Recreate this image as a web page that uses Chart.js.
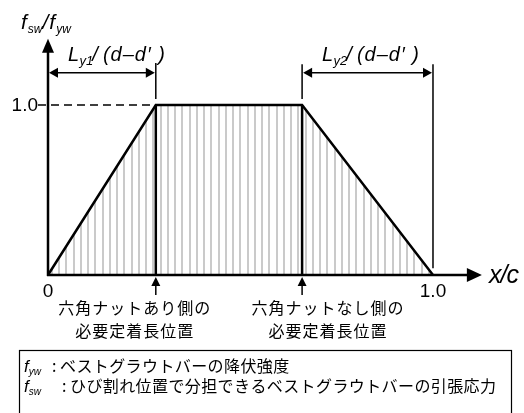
<!DOCTYPE html>
<html>
<head>
<meta charset="utf-8">
<script src="https://cdn.jsdelivr.net/npm/chart.js@4.4.1/dist/chart.umd.min.js"></script>
<style>
    html, body { margin: 0; padding: 0; background: #fff; }
    canvas { display: block; }
</style>
</head>
<body>
<canvas id="chart" width="524" height="413"></canvas>
<script>
// Corners of the stress profile (x/c) and f_sw/f_yw there
const xRatio = [0, 0.28, 0.66, 1.0];
const stressRatio = [0, 1.0, 1.0, 0];

// Required anchorage positions and their captions
const anchorX = [0.28, 0.66];
const anchorLabels = [
    ['六角ナットあり側の', '必要定着長位置'],
    ['六角ナットなし側の', '必要定着長位置']
];

// Tick labels
const xTicks = [0, 1.0];
const xTickLabels = ['0', '1.0'];
const yTicks = [1.0];
const yTickLabels = ['1.0'];

// Dimension spans L_y1 and L_y2
const spans = [[0, 0.28, 'y1'], [0.66, 1.0, 'y2']];

// Notes box
const notes = [
    ['yw', 'ベストグラウトバーの降伏強度'],
    ['sw', 'ひび割れ位置で分担できるベストグラウトバーの引張応力']
];

const latin = '"Liberation Sans", Arial, sans-serif';
const cjk = '"Noto Sans CJK JP", sans-serif';

// Vertical hatching for the area under the profile
function makeHatch(ctx) {
    const c = document.createElement('canvas');
    c.width = 29;
    c.height = 8;
    const g = c.getContext('2d');
    g.fillStyle = '#cacaca';
    for (let i = 0; i < 4; i++) g.fillRect(Math.round(i * 7.25), 0, 2, 8);
    return ctx.createPattern(c, 'repeat');
}

function arrowHead(ctx, x, y, dir, len, half) {
    // dir: 'up', 'right', 'left'
    ctx.beginPath();
    if (dir === 'up') {
        ctx.moveTo(x, y); ctx.lineTo(x - half, y + len); ctx.lineTo(x + half, y + len);
    } else if (dir === 'right') {
        ctx.moveTo(x, y); ctx.lineTo(x - len, y - half); ctx.lineTo(x - len, y + half);
    } else {
        ctx.moveTo(x, y); ctx.lineTo(x + len, y - half); ctx.lineTo(x + len, y + half);
    }
    ctx.closePath();
    ctx.fill();
}

// draws pieces of italic text with subscripts, left to right
function richText(ctx, x, y, parts) {
    ctx.textBaseline = 'alphabetic';
    ctx.textAlign = 'left';
    parts.forEach(p => {
        ctx.font = 'italic ' + p[1] + 'px ' + latin;
        ctx.fillText(p[0], x, y + (p[2] || 0));
        x += ctx.measureText(p[0]).width + (p[3] || 0);
    });
    return x;
}

const decor = {
    id: 'decor',
    afterDatasetsDraw(chart) {
        const ctx = chart.ctx;
        const sx = chart.scales.x, sy = chart.scales.y;
        const px = v => sx.getPixelForValue(v);
        const py = v => sy.getPixelForValue(v);
        const x0 = px(0), y0 = py(0);

        ctx.save();
        ctx.strokeStyle = '#000';
        ctx.fillStyle = '#000';

        // axes
        ctx.lineWidth = 2.5;
        ctx.beginPath();
        ctx.moveTo(x0, y0 + 1); ctx.lineTo(x0, py(1.33));
        ctx.moveTo(x0 - 1, y0); ctx.lineTo(px(1.09), y0);
        ctx.stroke();
        arrowHead(ctx, x0, py(1.39), 'up', 14, 6);
        arrowHead(ctx, px(1.127), y0, 'right', 15, 7);

        // dimension lines
        ctx.lineWidth = 1.5;
        const dimY = py(1.19);
        spans.forEach(s => {
            const a = px(s[0]), b = px(s[1]);
            ctx.beginPath();
            ctx.moveTo(a + 4, dimY); ctx.lineTo(b - 4, dimY);
            ctx.stroke();
            arrowHead(ctx, a + 1, dimY, 'left', 9, 5);
            arrowHead(ctx, b - 1, dimY, 'right', 9, 5);
        });
        // extension lines
        ctx.beginPath();
        ctx.moveTo(px(0.28), py(1.247)); ctx.lineTo(px(0.28), py(1.035));
        ctx.moveTo(px(0.66), py(1.24)); ctx.lineTo(px(0.66), py(1.035));
        ctx.moveTo(px(1.0), py(1.24)); ctx.lineTo(px(1.0), py(0.04));
        ctx.stroke();

        // anchorage arrows below the axis
        anchorX.forEach(v => {
            const x = px(v);
            ctx.beginPath();
            ctx.moveTo(x, py(-0.06)); ctx.lineTo(x, py(-0.118));
            ctx.stroke();
            arrowHead(ctx, x, py(-0.012), 'up', 9, 4.5);
        });

        // dimension captions
        spans.forEach((s, i) => {
            const start = i === 0 ? 68 : 322;
            let x = richText(ctx, start, 61, [['L', 20, 0, 0.5], [s[2], 13, 4, 0]]);
            x = richText(ctx, x - 1, 61, [['/', 20, 0, 5]]);
            ctx.font = 'italic 20px ' + latin;
            ctx.letterSpacing = '1px';
            ctx.fillText('(d–d′ )', x, 61);
            ctx.letterSpacing = '0px';
        });

        // y axis title and x axis title
        richText(ctx, 21, 29, [['f', 21, 0, 1], ['sw', 12, 4, 0], ['/', 21, 0, 1], ['f', 21, 0, 1], ['yw', 12, 4, 0]]);
        richText(ctx, 489, 283, [['x', 25, 0, -1], ['/', 25, 0, -1], ['c', 25, 0, 0]]);

        // tick labels
        ctx.font = '19px ' + latin;
        ctx.textBaseline = 'middle';
        ctx.textAlign = 'center';
        xTicks.forEach((v, i) => ctx.fillText(xTickLabels[i], px(v), y0 + 17));
        ctx.textAlign = 'right';
        yTicks.forEach((v, i) => ctx.fillText(yTickLabels[i], x0 - 10, py(v) + 1));

        // anchorage captions
        ctx.font = '16px ' + cjk;
        ctx.letterSpacing = '1px';
        ctx.textAlign = 'center';
        const offsets = [-21, 26];
        anchorLabels.forEach((lines, i) => {
            const cx = px(anchorX[i]) + offsets[i];
            lines.forEach((t, j) => ctx.fillText(t, cx, 308 + j * 23));
        });

        // notes box
        ctx.letterSpacing = '0px';
        ctx.lineWidth = 1.2;
        ctx.strokeRect(19.5, 350.5, 492, 70);
        notes.forEach((n, i) => {
            const yy = 366 + i * 20;
            richText(ctx, 24, yy + 6, [['f', 17, 0, 0], [n[0], 10, 3, 0]]);
            ctx.font = '16px ' + cjk;
            ctx.letterSpacing = '0.4px';
            ctx.textBaseline = 'middle';
            ctx.textAlign = 'left';
            ctx.fillText(':', i === 0 ? 52 : 62, yy);
            ctx.fillText(n[1], i === 0 ? 60 : 70, yy);
            ctx.letterSpacing = '0px';
        });
        ctx.restore();
    }
};

const canvas = document.getElementById('chart');
const ctx = canvas.getContext('2d');
const hatch = makeHatch(ctx);

const profile = xRatio.map((v, i) => ({ x: v, y: stressRatio[i] }));
const lineStyle = { showLine: true, pointRadius: 0, borderColor: '#000', borderWidth: 2.5, tension: 0, fill: false };

new Chart(ctx, {
    type: 'scatter',
    data: {
        datasets: [
            Object.assign({}, lineStyle, { data: profile, fill: 'origin', backgroundColor: hatch, borderJoinStyle: 'miter' }),
            ...anchorX.map(v => Object.assign({}, lineStyle, { data: [{ x: v, y: 0 }, { x: v, y: 1.0 }] })),
            Object.assign({}, lineStyle, { data: [{ x: -0.026, y: 1.0 }, { x: anchorX[0], y: 1.0 }], borderWidth: 1.3, borderDash: [8, 5] })
        ]
    },
    options: {
        responsive: false,
        animation: false,
        layout: { padding: 0 },
        plugins: { legend: { display: false }, tooltip: { enabled: false } },
        scales: {
            x: { type: 'linear', min: -0.1247, max: 1.2364, display: false },
            y: { type: 'linear', min: -0.8118, max: 1.6176, display: false }
        }
    },
    plugins: [decor]
});
</script>
</body>
</html>
